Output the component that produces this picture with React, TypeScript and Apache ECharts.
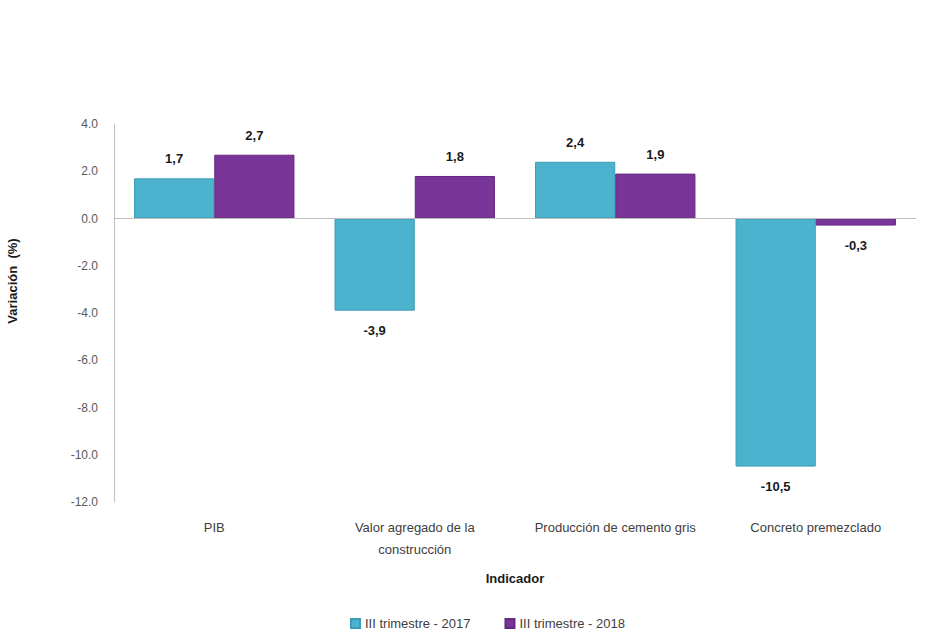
import React, { useEffect, useRef } from "react";
import * as echarts from "echarts";

const categories = ["PIB", "Valor agregado de la\nconstrucción", "Producción de cemento gris", "Concreto premezclado"];
const series2017 = [1.7, -3.9, 2.4, -10.5];
const series2018 = [2.7, 1.8, 1.9, -0.3];
const seriesNames = ["III trimestre - 2017", "III trimestre - 2018"];
const colors = ["#4BB3CE", "#7A3599"];

const FONT = "'Liberation Sans Narrow', 'Liberation Sans', sans-serif";

function toData(values: number[]) {
  return values.map((v) => ({
    value: v,
    label: { position: v < 0 ? "bottom" : "top" },
  }));
}

export default function App() {
  const ref = useRef<HTMLDivElement>(null);
  useEffect(() => {
    if (!ref.current) return;
    const chart = echarts.init(ref.current, undefined, { renderer: "svg" });
    const labelCfg = {
      show: true,
      distance: 13,
      fontFamily: FONT,
      fontWeight: "bold" as const,
      fontSize: 13,
      color: "#1a1a1a",
      formatter: (p: any) => String(p.value.toFixed(1)).replace(".", ","),
    };
    chart.setOption({
      animation: false,
      backgroundColor: "#ffffff",
      grid: { left: 114, right: 10, top: 124, bottom: 130, containLabel: false },
      legend: {
        bottom: -3,
        left: 345,
        itemWidth: 9,
        itemHeight: 9,
        itemGap: 34,
        icon: "rect",
        textStyle: { fontFamily: FONT, fontSize: 13, color: "#404040" },
        data: seriesNames,
      },
      xAxis: {
        type: "category",
        data: categories,
        name: "Indicador",
        nameLocation: "middle",
        nameGap: 70,
        nameTextStyle: { fontFamily: FONT, fontWeight: "bold", fontSize: 13, color: "#1a1a1a" },
        axisLine: { show: false, onZero: false },
        axisTick: { show: false },
        axisLabel: { interval: 0, margin: 14, fontFamily: FONT, fontSize: 13, color: "#404040", lineHeight: 22 },
      },
      yAxis: {
        type: "value",
        min: -12,
        max: 4,
        interval: 2,
        axisLine: { show: true, lineStyle: { color: "#bfbfbf" } },
        axisTick: { show: false },
        splitLine: { show: false },
        axisLabel: {
          margin: 16,
          fontFamily: FONT,
          fontSize: 12,
          color: "#595959",
          formatter: (v: number) => v.toFixed(1),
        },
      },
      graphic: [
        {
          type: "text",
          x: 12,
          y: 281,
          rotation: Math.PI / 2,
          style: {
            text: "Variación  (%)",
            fontFamily: FONT,
            fontWeight: "bold",
            fontSize: 13,
            fill: "#1a1a1a",
            align: "center",
            verticalAlign: "middle",
          },
        },
      ],
      series: [
        {
          name: seriesNames[0],
          type: "bar",
          data: toData(series2017),
          barGap: "0%",
          barCategoryGap: "20%",
          itemStyle: { color: colors[0], borderColor: "#3d9bb3", borderWidth: 1 },
          label: labelCfg,
          markLine: {
            silent: true,
            symbol: "none",
            label: { show: false },
            lineStyle: { color: "#bfbfbf", type: "solid", width: 1 },
            data: [{ yAxis: 0 }],
          },
        },
        {
          name: seriesNames[1],
          type: "bar",
          data: toData(series2018),
          barGap: "0%",
          barCategoryGap: "20%",
          itemStyle: { color: colors[1], borderColor: "#642a80", borderWidth: 1 },
          label: labelCfg,
        },
      ],
    });
    return () => chart.dispose();
  }, []);
  return <div ref={ref} style={{ position: "fixed", left: 0, top: 0, width: 926, height: 632 }} />;
}
